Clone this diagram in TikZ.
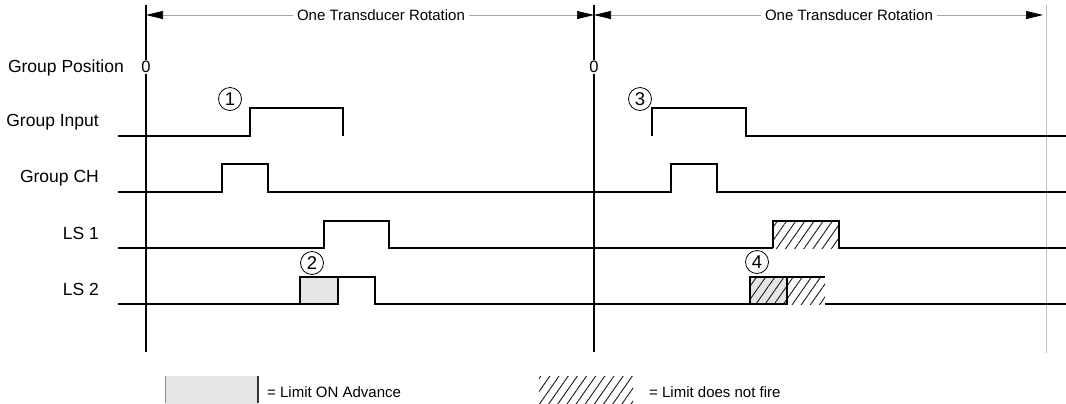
\documentclass[tikz,border=0pt]{standalone}
\usepackage{fontspec}
\setmainfont{Liberation Sans}
\usetikzlibrary{arrows.meta,patterns.meta}
\begin{document}
\begin{tikzpicture}[x=1bp,y=-1bp,
  sig/.style={line width=1.2bp,black,line join=miter},
  axis/.style={line width=2bp,black},
  dim/.style={line width=0.7bp,black!35},
  tip/.style={-{Triangle[length=17bp,width=8bp,color=black]}},
  lbl/.style={font=\fontsize{17.5bp}{20bp}\selectfont,anchor=east,inner sep=0pt},
  ttl/.style={font=\fontsize{15bp}{18bp}\selectfont,inner sep=4bp},
  lgd/.style={font=\fontsize{15bp}{18bp}\selectfont,inner sep=0pt,anchor=west},
  circ/.style={circle,draw,line width=0.8bp,minimum size=23bp,inner sep=0pt,font=\fontsize{18.5bp}{19bp}\selectfont},
  zero/.style={font=\fontsize{16.5bp}{18bp}\selectfont,fill=white,inner sep=1bp},
  hatch/.style={pattern={Lines[angle=55,distance=7.5bp,line width=0.9bp]},pattern color=black!90},
  lightfill/.style={fill=black!10},
]
\useasboundingbox (0,0) rectangle (1066,403);

% rotation axes
\coordinate (a0top) at (146,5);  \coordinate (a0bot) at (146,352);
\coordinate (a1top) at (594,5);  \coordinate (a1bot) at (594,352);
\coordinate (a2top) at (1046,5); \coordinate (a2bot) at (1046,353);
\draw[axis] (a0top) -- (a0bot);
\draw[axis] (a1top) -- (a1bot);
\draw[line width=0.8bp,black!25] (a2top) -- (a2bot);
\node[zero] (z0) at (146,67) {0};
\node[zero] (z1) at (594,67) {0};

% rotation dimension arrows
\node[ttl] (r1) at (381,15) {One Transducer Rotation};
\node[ttl] (r2) at (849,15) {One Transducer Rotation};
\coordinate (r1l) at (146,15); \coordinate (r1r) at (594,15);
\coordinate (r2l) at (594,15); \coordinate (r2r) at (1043,15);
\draw[dim,tip] (r1.west) -- (r1l);
\draw[dim,tip] (r1.east) -- (r1r);
\draw[dim,tip] (r2.west) -- (r2l);
\draw[dim,tip] (r2.east) -- (r2r);

% row labels
\node[lbl] (gp) at (124,68) {Group Position};
\node[lbl] (gi) at (99,122) {Group Input};
\node[lbl] (gc) at (99,178) {Group CH};
\node[lbl] (l1) at (99,233) {LS 1};
\node[lbl] (l2) at (99,289) {LS 2};

% Group Input
\draw[sig] (118,136) -- (250,136) -- (250,108) -- (343,108) -- (343,136);
\draw[sig] (652,136) -- (652,108) -- (746,108) -- (746,136) -- (1066,136);

% Group CH
\draw[sig] (118,192) -| (222,164) -| (268,192) -| (671,164) -| (717,192) -- (1066,192);

% LS 1
\draw[sig] (118,248) -| (324,221) -| (389,248) -- (773,248);
\fill[hatch] (773,221) rectangle (839,248);
\draw[sig] (773,248) -- (773,221) -- (839,221) -- (839,248) -- (1066,248);

% LS 2
\draw[sig] (118,304) -- (300,304);
\draw[sig,lightfill] (300,277) rectangle (338,304);
\draw[sig] (338,277) -| (375,304) -- (750,304);
\fill[black!10] (750,277) rectangle (787,304);
\fill[hatch] (750,277) rectangle (825,304);
\draw[sig] (750,277) rectangle (787,304);
\draw[sig] (787,277) -- (825,277);
\draw[sig] (825,304) -- (1066,304);

% circled markers
\node[circ] (c1) at (230,99) {1};
\node[circ] (c2) at (312,263) {2};
\node[circ] (c3) at (640,99) {3};
\node[circ] (c4) at (757,262) {4};

% legend
\fill[black!10] (165,376) rectangle (258,405);
\draw[line width=0.6bp,black!45] (165,376) -- (165,403);
\draw[line width=1.4bp,black!80] (258,376) -- (258,403);
\node[lgd] (t1) at (267,392) {= Limit ON Advance};
\fill[hatch] (539,376) rectangle (633,405);
\node[lgd] (t2) at (649,392) {= Limit does not fire};
\end{tikzpicture}
\end{document}
